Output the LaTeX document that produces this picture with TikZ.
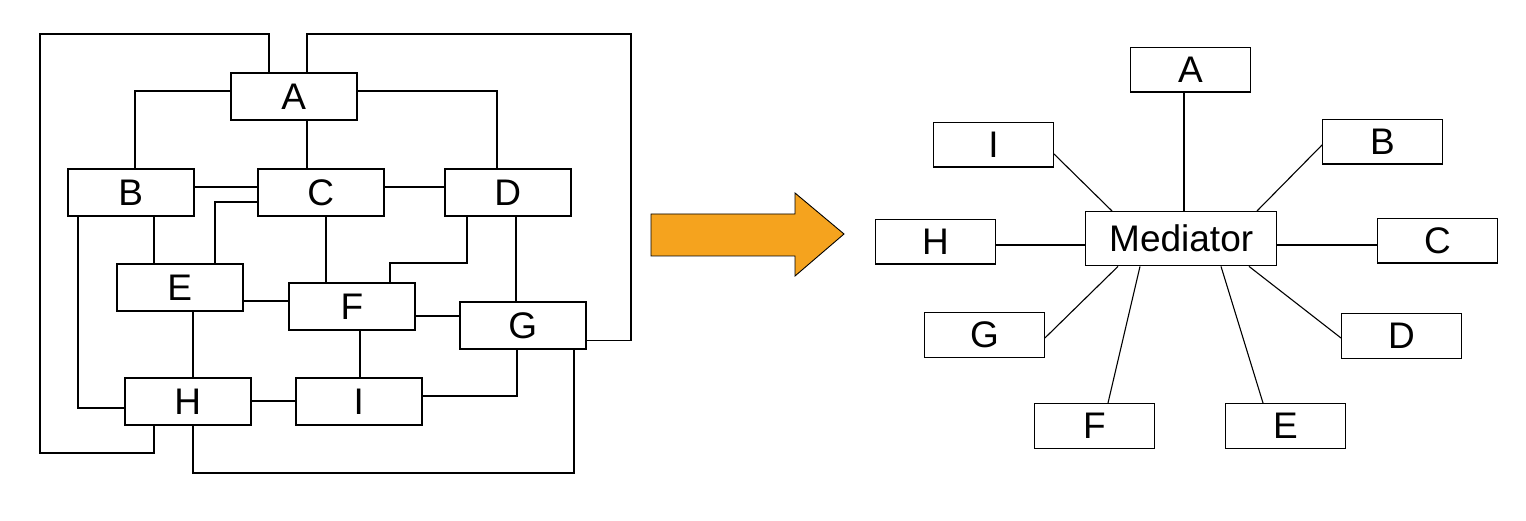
\documentclass[tikz,border=0pt]{standalone}
\usepackage{fontspec}
\usetikzlibrary{calc}
\newfontfamily\diagfont{Liberation Sans}
\definecolor{arrowfill}{RGB}{245,163,30}
\begin{document}
\begin{tikzpicture}[x=1pt,y=-1pt,
  box/.style={draw, line width=1.6pt, inner sep=0pt, anchor=north west,
    minimum width=126pt, minimum height=47pt,
    font={\diagfont\fontsize{37}{40}\selectfont}},
  sbox/.style={box, line width=1.4pt, minimum width=119.5pt, minimum height=44.5pt},
  link/.style={draw, line width=1.3pt},
  slink/.style={draw, line width=1.1pt}]
\useasboundingbox (0,0) rectangle (1526,521);

% ---- fully meshed network ----
\node[box] (A) at (230,72)  {A};
\node[box] (B) at (67,168)  {B};
\node[box] (C) at (257,168) {C};
\node[box] (D) at (444,168) {D};
\node[box] (E) at (116,263) {E};
\node[box] (F) at (288,282) {F};
\node[box] (G) at (459,301) {G};
\node[box] (H) at (124,377) {H};
\node[box] (I) at (295,377) {I};

\path[link] ($(A.north west)+(39,0)$) |- (40,34) |- (154,453) -- ($(H.south west)+(30,0)$);
\path[link] ($(A.north west)+(77,0)$) |- (631,34) |- ($(G.south east)+(0,-9)$);
\path[link] ($(A.north west)+(0,19)$) -| ($(B.north west)+(68,0)$);
\path[link] ($(A.north east)+(0,19)$) -| ($(D.north west)+(53,0)$);
\path[link] ($(A.south west)+(77,0)$) -- ($(C.north west)+(50,0)$);
\path[link] ($(B.north east)+(0,19)$) -- ($(C.north west)+(0,19)$);
\path[link] ($(C.north east)+(0,19)$) -- ($(D.north west)+(0,19)$);
\path[link] ($(C.north west)+(0,34)$) -| ($(E.north west)+(99,0)$);
\path[link] ($(C.south west)+(69,0)$) -- ($(F.north west)+(38,0)$);
\path[link] ($(D.south west)+(23,0)$) |- (390,263) -- ($(F.north west)+(102,0)$);
\path[link] ($(D.south west)+(72,0)$) -- ($(G.north west)+(57,0)$);
\path[link] ($(B.south west)+(11,0)$) |- ($(H.north west)+(0,31)$);
\path[link] ($(B.south west)+(87,0)$) -- ($(E.north west)+(38,0)$);
\path[link] ($(E.north east)+(0,38)$) -- ($(F.north west)+(0,19)$);
\path[link] ($(E.south west)+(77,0)$) -- ($(H.north west)+(69,0)$);
\path[link] ($(F.north east)+(0,34)$) -- ($(G.north west)+(0,15)$);
\path[link] ($(F.south west)+(72,0)$) -- ($(I.north west)+(65,0)$);
\path[link] ($(H.north east)+(0,24)$) -- ($(I.north west)+(0,24)$);
\path[link] ($(I.north east)+(0,19)$) -| ($(G.south west)+(58,0)$);
\path[link] ($(H.south west)+(69,0)$) |- (574,473) -- ($(G.south west)+(115,0)$);

% ---- block arrow ----
\draw[fill=arrowfill, line width=0.9pt, line join=miter]
  (651,214) -- (795,214) -- (795,193) -- (844,234) -- (795,276) -- (795,256) -- (651,256) -- cycle;

% ---- star through the mediator ----
\node[sbox, minimum width=191pt, minimum height=54pt] (M) at (1085,211) {Mediator};
\node[sbox] (mA) at (1130,47)  {A};
\node[sbox] (mB) at (1322,119) {B};
\node[sbox] (mC) at (1377,218) {C};
\node[sbox] (mD) at (1341,313) {D};
\node[sbox] (mE) at (1225,403) {E};
\node[sbox] (mF) at (1034,403) {F};
\node[sbox] (mG) at (924,312)  {G};
\node[sbox] (mH) at (875,219)  {H};
\node[sbox] (mI) at (933,122)  {I};

\path[slink] ($(mA.south west)+(54,0)$) -- ($(M.north west)+(99,0)$);
\path[slink] ($(mI.south east)+(0,-14)$) -- ($(M.north west)+(27,0)$);
\path[slink] ($(mH.north east)+(0,26)$) -- ($(M.north west)+(0,34)$);
\path[slink] ($(mB.north west)+(0,26)$) -- ($(M.north west)+(172,0)$);
\path[slink] ($(M.north east)+(0,34)$) -- ($(mC.north west)+(0,27)$);
\path[slink] ($(M.south west)+(33,0)$) -- ($(mG.north east)+(0,26)$);
\path[slink] ($(M.south west)+(55,0)$) -- ($(mF.north west)+(74,0)$);
\path[slink] ($(M.south west)+(136,0)$) -- ($(mE.north west)+(38,0)$);
\path[slink] ($(M.south west)+(164,0)$) -- ($(mD.north west)+(0,25)$);
\end{tikzpicture}
\end{document}
